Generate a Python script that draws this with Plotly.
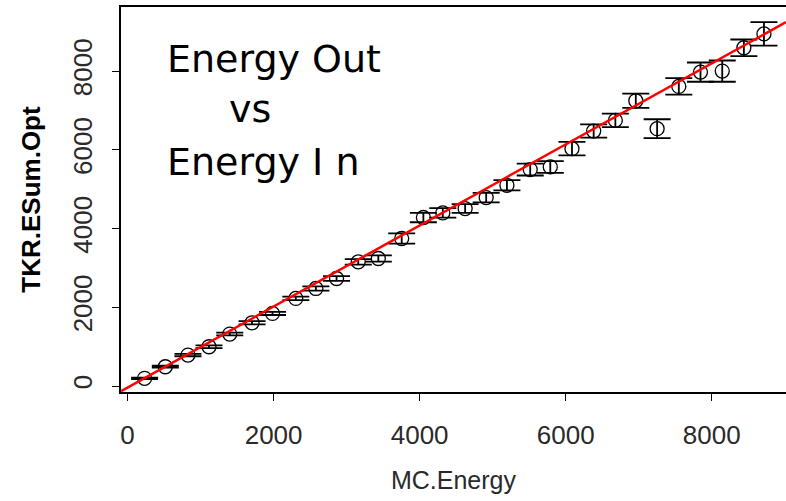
import plotly.graph_objects as go

# Binned Monte Carlo energy vs reconstructed tracker energy sum
mc_energy = [233, 517, 827, 1115, 1399, 1705, 1985, 2304, 2579, 2862,
             3159, 3434, 3754, 4051, 4317, 4623, 4911, 5195, 5514, 5789,
             6086, 6383, 6680, 6960, 7252, 7549, 7846, 8144, 8440, 8715]
tkr_esum = [195, 490, 787, 998, 1320, 1607, 1845, 2226, 2479, 2733,
            3155, 3241, 3749, 4282, 4399, 4510, 4789, 5102, 5500, 5567,
            6032, 6480, 6751, 7250, 6540, 7614, 7977, 8003, 8596, 8949]
tkr_err = [20, 25, 30, 35, 35, 40, 40, 45, 55, 60,
           70, 80, 130, 120, 120, 110, 120, 130, 150, 150,
           170, 170, 170, 180, 240, 210, 245, 270, 210, 300]

# Linear fit: slope and intercept
fit_slope = 1.03
fit_intercept = -40.0
x_range = [-90, 9017]
y_range = [-152, 9632]

x_ticks = [0, 2000, 4000, 6000, 8000]
y_ticks = [0, 2000, 4000, 6000, 8000]

axis_font = dict(family="Liberation Sans, Arial, sans-serif", size=26, color="#2a2a2a")

fig = go.Figure()

fig.add_trace(go.Scatter(
    x=mc_energy, y=tkr_esum,
    mode="markers",
    marker=dict(symbol="circle-open", size=14, color="black",
                line=dict(width=1.3, color="black")),
    error_y=dict(type="data", array=tkr_err, visible=True,
                 color="black", thickness=1.8, width=13.5),
    showlegend=False,
))

fit_x = list(x_range)
fit_y = [fit_slope * v + fit_intercept for v in fit_x]
fig.add_trace(go.Scatter(
    x=fit_x, y=fit_y, mode="lines",
    line=dict(color="#ff0000", width=2.5),
    showlegend=False,
))

title_font = dict(family="DejaVu Sans, sans-serif", size=38, color="black")
fig.add_annotation(text="Energy Out", xref="paper", yref="paper",
                   x=0.0666, y=0.8655, xanchor="left", yanchor="middle",
                   showarrow=False, font=title_font)
fig.add_annotation(text="vs", xref="paper", yref="paper",
                   x=0.1598, y=0.7356, xanchor="left", yanchor="middle",
                   showarrow=False, font=title_font)
fig.add_annotation(text="Energy I n", xref="paper", yref="paper",
                   x=0.0666, y=0.598, xanchor="left", yanchor="middle",
                   showarrow=False, font=title_font)

fig.update_xaxes(
    range=x_range, tickvals=x_ticks, ticktext=[str(v) for v in x_ticks],
    showgrid=False, zeroline=False,
    showline=True, linecolor="black", linewidth=1.5, mirror=True,
    ticks="outside", ticklen=7, tickwidth=1.3, tickcolor="black",
    tickfont=axis_font, ticklabelstandoff=12,
    title=dict(text="MC.Energy", font=dict(family="Liberation Sans, Arial, sans-serif",
                                           size=25, color="#2a2a2a"), standoff=23),
)
fig.update_yaxes(
    range=y_range, tickvals=y_ticks, ticktext=[str(v) for v in y_ticks],
    showgrid=False, zeroline=False,
    showline=True, linecolor="black", linewidth=1.5, mirror=False,
    ticks="outside", ticklen=7, tickwidth=1.3, tickcolor="black",
    tickangle=-90, tickfont=axis_font, ticklabelstandoff=10,
    title=dict(text="<b>TKR.ESum.Opt</b>", font=dict(family="Liberation Sans, Arial, sans-serif",
                                                     size=26, color="black"), standoff=20),
)

fig.update_layout(
    width=786, height=501,
    margin=dict(l=121, r=0, t=7, b=109),
    paper_bgcolor="white", plot_bgcolor="white",
)

fig.write_html("out.html")
